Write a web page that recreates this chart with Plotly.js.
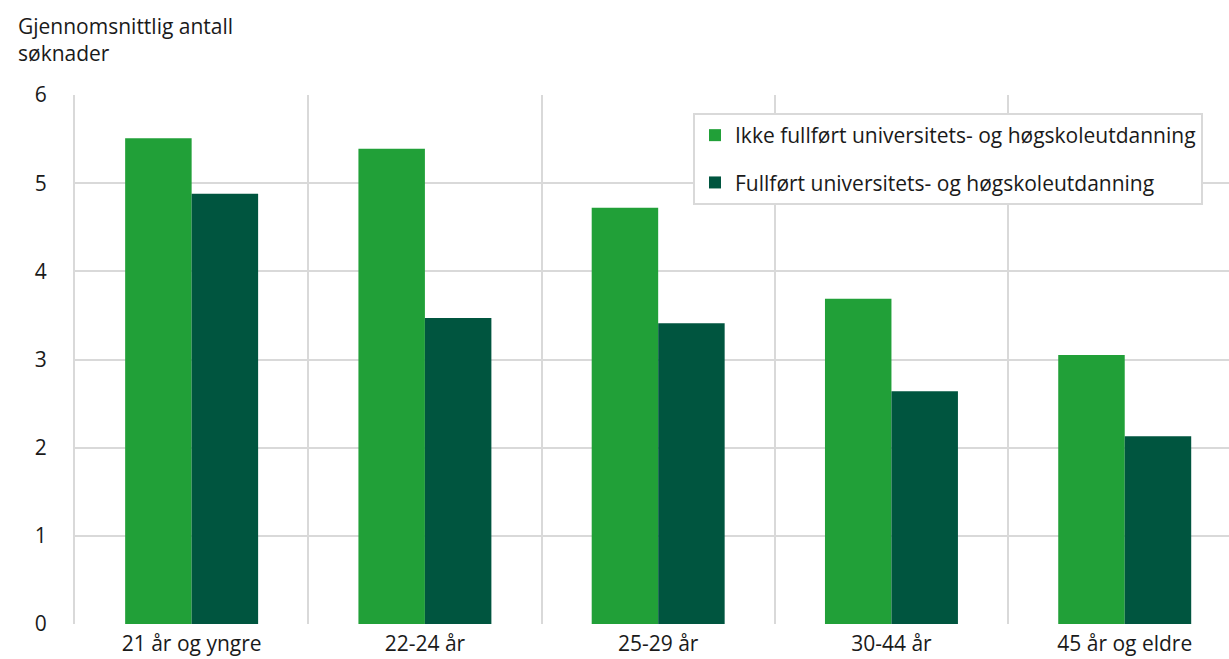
<!DOCTYPE html>
<html>
<head>
<meta charset="utf-8">
<script src="https://cdn.plot.ly/plotly-3.0.1.min.js"></script>
<style>html,body{margin:0;padding:0;background:#fff;}#chart{width:1229px;height:659px;}</style>
</head>
<body>
<div id="chart"></div>
<script>
const categories = ["21 år og yngre", "22-24 år", "25-29 år", "30-44 år", "45 år og eldre"];
const seriesNames = ["Ikke fullført universitets- og høgskoleutdanning", "Fullført universitets- og høgskoleutdanning"];
const ikkeFullfort = [5.51, 5.39, 4.72, 3.69, 3.05];
const fullfort = [4.88, 3.47, 3.41, 2.64, 2.13];
const yTicks = [0, 1, 2, 3, 4, 5, 6];
const yTitle = "Gjennomsnittlig antall<br>søknader";

const font = "'Open Sans', 'Noto Sans', sans-serif";
const fsize = 21;
const traces = [
  {type: 'bar', name: seriesNames[0], x: categories, y: ikkeFullfort, marker: {color: '#21a038'}, legendgroup: 'a'},
  {type: 'bar', name: seriesNames[1], x: categories, y: fullfort, marker: {color: '#00553f'}, legendgroup: 'b'}
];
const layout = {
  width: 1229, height: 659,
  margin: {l: 75, r: 0, t: 95, b: 35},
  paper_bgcolor: '#fff', plot_bgcolor: '#fff',
  font: {family: font, size: fsize, color: '#1a1a1a'},
  annotations: [{text: yTitle, xref: 'paper', yref: 'paper', x: (16-75)/1154, y: (624-10)/529, xanchor: 'left', yanchor: 'top', align: 'left', showarrow: false, font: {family: font, size: fsize, color: '#1a1a1a'}}],
  barmode: 'group', bargap: 0.43, bargroupgap: 0,
  xaxis: {type: 'category', range: [-0.5, 4.447], tickson: 'boundaries', showgrid: true, gridcolor: '#d9d9d9', gridwidth: 2, ticks: '', showline: false, zeroline: false, ticklabelstandoff: 5, fixedrange: true},
  yaxis: {range: [0, 6], tickvals: yTicks, showgrid: true, gridcolor: '#d9d9d9', gridwidth: 2, zeroline: false, showline: true, linecolor: '#d9d9d9', linewidth: 2, ticks: '', ticklabelstandoff: 22, fixedrange: true},
  legend: {x: (693-75)/1154, y: (624-113)/529, xanchor: 'left', yanchor: 'top', bgcolor: '#fff', bordercolor: '#d9d9d9', borderwidth: 2, font: {family: font, size: fsize, color: '#1a1a1a'}, tracegroupgap: 17, traceorder: 'grouped'},
  showlegend: true
};
Plotly.newPlot('chart', traces, layout, {displayModeBar: false, staticPlot: true});
</script>
</body>
</html>
